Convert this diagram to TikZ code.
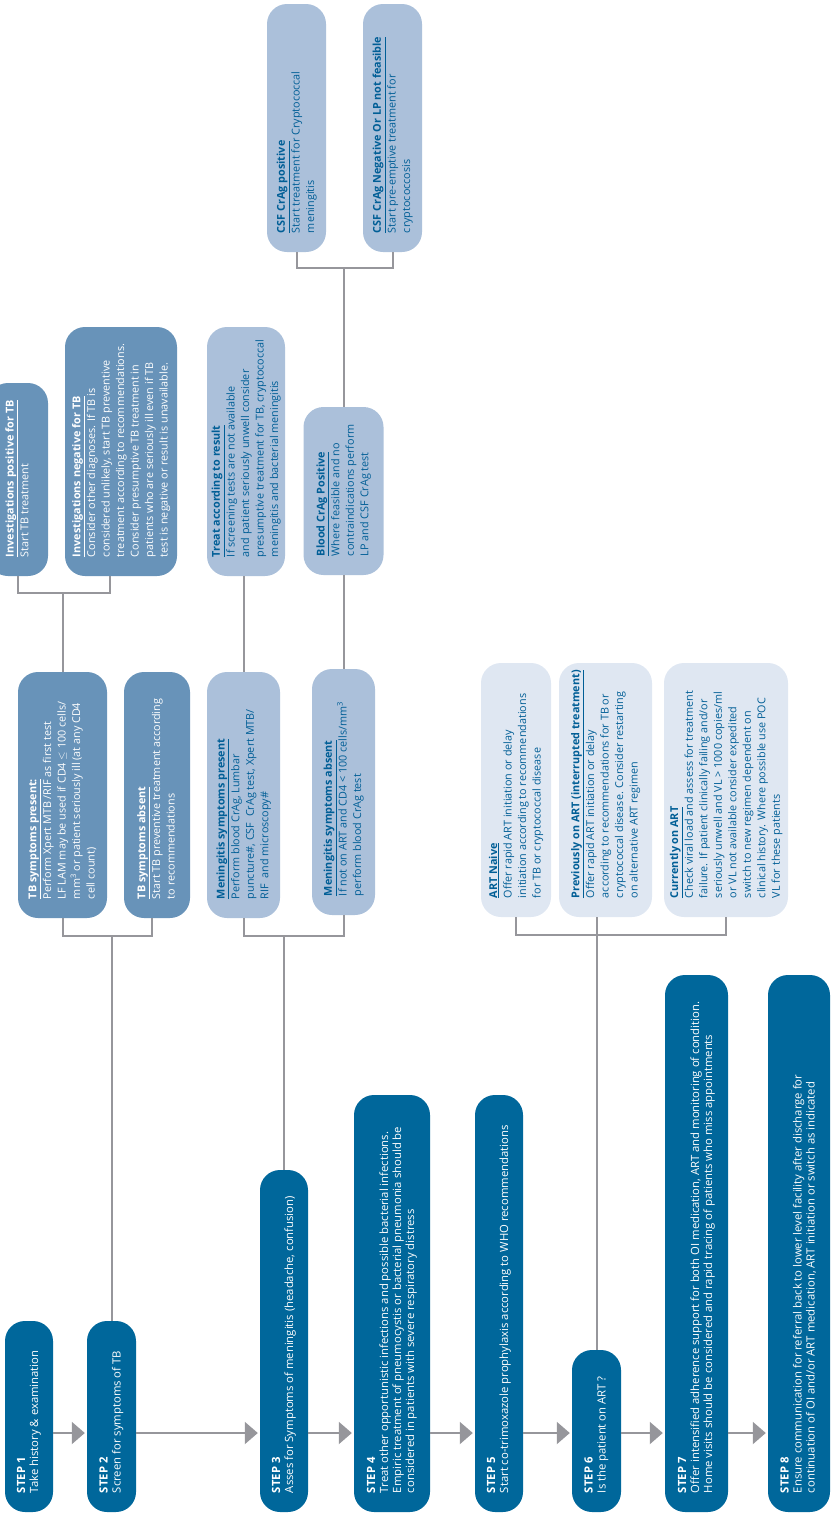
\documentclass[tikz,border=0pt]{standalone}
\usepackage{fontspec}
\setmainfont{Open Sans}
\usetikzlibrary{arrows.meta}
\definecolor{stepblue}{RGB}{0,103,155}
\definecolor{midblue}{RGB}{104,147,185}
\definecolor{paleblue}{RGB}{171,192,218}
\definecolor{mistblue}{RGB}{223,231,242}
\definecolor{inkblue}{RGB}{0,94,150}
\definecolor{wire}{RGB}{150,150,155}
\newcommand{\boxhead}[1]{\underline{\textbf{#1}}}
\newcommand{\cardlines}[2]{\makebox[#1][l]{\begin{tabular}{@{}l@{}}#2\end{tabular}}}
\tikzset{
  card/.style={rotate=90, rounded corners=20pt, inner sep=0pt},
  stepcard/.style={card, fill=stepblue, text=white, font=\fontsize{11.3}{13}\selectfont},
  tbcard/.style={card, fill=midblue, text=white, font=\fontsize{10.8}{14.5}\selectfont},
  palecard/.style={card, fill=paleblue, text=inkblue, font=\fontsize{10.8}{14.5}\selectfont},
  mistcard/.style={card, fill=mistblue, text=inkblue, font=\fontsize{10.8}{14.5}\selectfont},
  wireline/.style={draw=wire, line width=2pt},
  flowline/.style={wireline, -{Triangle[length=13pt,width=22pt]}, shorten >=2pt}
}
\begin{document}
\begin{tikzpicture}[x=1pt,y=-1pt]
\useasboundingbox (0,0) rectangle (832,1513);
% steps
\node[stepcard, minimum width=191pt, minimum height=48pt] (step1) at (29,1416.5)
  {\cardlines{153pt}{\textbf{STEP 1}\\Take history \& examination}};
\node[stepcard, minimum width=191pt, minimum height=49pt] (step2) at (111.5,1416.5)
  {\cardlines{153pt}{\textbf{STEP 2}\\Screen for symptoms of TB}};
\node[stepcard, minimum width=342pt, minimum height=48pt] (step3) at (284,1341)
  {\cardlines{304pt}{\textbf{STEP 3}\\Asses for Symptoms of meningitis (headache, confusion)}};
\node[stepcard, minimum width=417pt, minimum height=76pt] (step4) at (392,1303.5)
  {\cardlines{379pt}{\textbf{STEP 4}\\Treat other opportunistic infections and possible bacterial infections.\\
   Empiric treatment of pneumocystis or bacterial pneumonia should be\\
   considered in patients with severe respiratory distress}};
\node[stepcard, minimum width=417pt, minimum height=48pt] (step5) at (499,1303.5)
  {\cardlines{379pt}{\textbf{STEP 5}\\Start co-trimoxazole prophylaxis according to WHO recommendations}};
\node[stepcard, minimum width=162pt, minimum height=49pt] (step6) at (596.5,1431)
  {\cardlines{124pt}{\textbf{STEP 6}\\Is the patient on ART ?}};
\node[stepcard, minimum width=537pt, minimum height=63pt] (step7) at (696.5,1243.5)
  {\cardlines{499pt}{\textbf{STEP 7}\\Offer intensified adherence support for both OI medication, ART and monitoring of condition.\\
   Home visits should be considered and rapid tracing of patients who miss appointments}};
\node[stepcard, minimum width=537pt, minimum height=62pt] (step8) at (799,1243.5)
  {\cardlines{499pt}{\textbf{STEP 8}\\Ensure communication for referral back to lower level facility after discharge for\\
   continuation of OI and/or ART medication, ART initiation or switch as indicated}};
% TB branch
\node[tbcard, minimum width=246pt, minimum height=89pt] (tbpos) at (62.5,795)
  {\cardlines{208pt}{\boxhead{TB symptoms present:}\\Perform Xpert MTB /RIF as first test\\
   LF LAM may be used if CD4 $\leq$ 100 cells/\\mm\textsuperscript{3} or patient seriously ill (at any CD4\\cell count)}};
\node[tbcard, minimum width=246pt, minimum height=66pt] (tbabs) at (157,795)
  {\cardlines{208pt}{\boxhead{TB symptoms absent}\\Start TB preventive treatment according\\to recommendations}};
\node[tbcard, minimum width=193pt, minimum height=60pt] (invpos) at (18,479.5)
  {\cardlines{155pt}{\boxhead{Investigations positive for TB}\\Start TB treatment}};
\node[tbcard, minimum width=249pt, minimum height=112pt] (invneg) at (121,451.5)
  {\cardlines{211pt}{\boxhead{Investigations negative for TB}\\Consider other diagnoses. If TB is\\
   considered unlikely, start TB preventive\\treatment according to recommendations.\\
   Consider presumptive TB treatment in\\patients who are seriously ill even if TB\\
   test is negative or result is unavailable.}};
% meningitis branch
\node[palecard, minimum width=246pt, minimum height=73pt] (menpos) at (243.5,795)
  {\cardlines{208pt}{\boxhead{Meningitis symptoms present}\\Perform blood CrAg, Lumbar\\
   puncture\#, CSF\ \ CrAg test, Xpert MTB/\\RIF\ \ and microscopy\#}};
\node[palecard, minimum width=246pt, minimum height=63pt] (menabs) at (343.5,792)
  {\cardlines{208pt}{\boxhead{Meningitis symptoms absent}\\If not on ART and CD4 < 100 cells/mm\textsuperscript{3}\\
   perform blood CrAg test}};
\node[palecard, minimum width=249pt, minimum height=78pt] (treat) at (246,451.5)
  {\cardlines{211pt}{\boxhead{Treat according to result}\\If screening tests are not available\\
   and patient seriously unwell consider\\presumptive treatment for TB, cryptococcal\\
   meningitis and bacterial meningitis}};
\node[palecard, minimum width=168pt, minimum height=80pt] (bloodpos) at (343.5,491)
  {\cardlines{130pt}{\boxhead{Blood CrAg Positive}\\Where feasible and no\\contraindications perform\\LP and CSF CrAg test}};
\node[palecard, minimum width=248pt, minimum height=59pt] (csfpos) at (296.5,128)
  {\cardlines{210pt}{\boxhead{CSF CrAg positive}\\Start treatment for Cryptococcal\\meningitis}};
\node[palecard, minimum width=248pt, minimum height=59pt] (csfneg) at (392.5,128)
  {\cardlines{210pt}{\boxhead{CSF CrAg Negative Or LP not feasible}\\Start pre-emptive treatment for\\cryptococcosis}};
% ART branch
\node[mistcard, minimum width=254pt, minimum height=70pt] (artnaive) at (516,790)
  {\cardlines{216pt}{\boxhead{ART Naive}\\Offer rapid ART initiation or delay\\
   initiation according to recommendations\\for TB or cryptococcal disease}};
\node[mistcard, minimum width=254pt, minimum height=93pt] (artprev) at (605.5,790)
  {\cardlines{216pt}{\boxhead{Previously on ART (interrupted treatment)}\\Offer rapid ART initiation or delay\\
   according to recommendations for TB or\\cryptococcal disease. Consider restarting\\on alternative ART regimen}};
\node[mistcard, minimum width=254pt, minimum height=124pt] (artcurr) at (726,790)
  {\cardlines{216pt}{\boxhead{Currently on ART}\\Check viral load and assess for treatment\\
   failure. If patient clinically failing and/or\\seriously unwell and VL > 1000 copies/ml\\
   or VL not available consider expedited\\switch to new regimen dependent on\\
   clinical history. Where possible use POC\\VL for these patients}};
% arrows along the bottom
\coordinate (row) at (0,1433);
\draw[flowline] (step1.south |- row) -- (step2.north |- row);
\draw[flowline] (step2.south |- row) -- (step3.north |- row);
\draw[flowline] (step3.south |- row) -- (step4.north |- row);
\draw[flowline] (step4.south |- row) -- (step5.north |- row);
\draw[flowline] (step5.south |- row) -- (step6.north |- row);
\draw[flowline] (step6.south |- row) -- (step7.north |- row);
\draw[flowline] (step7.south |- row) -- (step8.north |- row);
% forks
\coordinate (tbfork) at (111.5,936);
\draw[wireline] (step2.east) -- (tbfork);
\draw[wireline] (tbpos.west) |- (tbfork) -| ([xshift=-5pt]tbabs.west);
\coordinate (invfork) at (62.5,593);
\draw[wireline] (tbpos.east) -- (invfork);
\draw[wireline] (invpos.west) |- (invfork) -| ([xshift=-11pt]invneg.west);
\coordinate (menfork) at (284,936);
\draw[wireline] (step3.east) -- (menfork);
\draw[wireline] (menpos.west) |- (menfork) -| (menabs.west);
\draw[wireline] (menpos.east) -- (menpos.east |- treat.west);
\draw[wireline] (menabs.east) -- (bloodpos.west);
\coordinate (csffork) at (343.5,268);
\draw[wireline] (bloodpos.east) -- (csffork);
\draw[wireline] (csfpos.west) |- (csffork) -| (csfneg.west);
\coordinate (artfork) at (596.5,935);
\draw[wireline] (step6.east) -- (step6.east |- artprev.west);
\draw[wireline] (artnaive.west) |- (artfork) -| (artcurr.west);
\end{tikzpicture}
\end{document}
